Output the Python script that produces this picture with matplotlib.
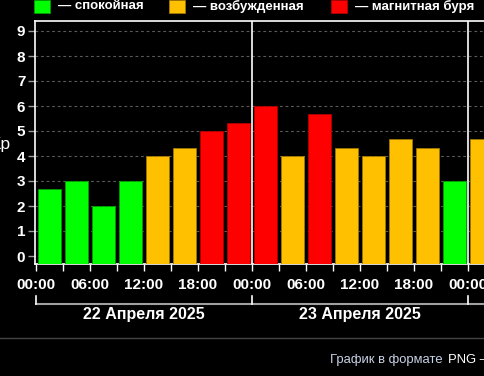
import numpy as np
import matplotlib
matplotlib.use("Agg")
import matplotlib.pyplot as plt
import matplotlib.transforms as mtransforms

plt.rcParams['font.family'] = ['Liberation Sans', 'DejaVu Sans']

# Kp index, 3-hour intervals starting 22.04.2025 00:00
kp = [2.67, 3.0, 2.0, 3.0, 4.0, 4.33, 5.0, 5.33,
      6.0, 4.0, 5.67, 4.33, 4.0, 4.67, 4.33, 3.0, 4.67]
levels = ['calm', 'calm', 'calm', 'calm', 'active', 'active', 'storm', 'storm',
          'storm', 'active', 'storm', 'active', 'active', 'active', 'active', 'calm', 'active']
legend_labels = ['— спокойная', '— возбужденная', '— магнитная буря']
day_labels = ['22 Апреля 2025', '23 Апреля 2025']
hour_labels = ['00:00', '06:00', '12:00', '18:00']

fill = {'calm': '#00ff00', 'active': '#ffc000', 'storm': '#ff0000'}
edge = {'calm': '#00a000', 'active': '#a07800', 'storm': '#b00000'}

W, H = 484, 376
fig = plt.figure(figsize=(W / 100, H / 100), dpi=100, facecolor='black')

def px(x0, y0, x1, y1):
    # pixel box -> figure fraction [left, bottom, width, height]
    return [x0 / W, 1 - y1 / H, (x1 - x0) / W, (y1 - y0) / H]

ax = fig.add_axes(px(35, 21, 484, 264))
ax.set_facecolor('black')

hours = np.arange(len(kp)) * 3 + 1.5
ymin = -0.32
ax.bar(hours, np.array(kp) - ymin, bottom=ymin, width=2.65,
       color=[fill[l] for l in levels], edgecolor=[edge[l] for l in levels],
       linewidth=0.6, zorder=3)

ax.set_xlim(-0.12, 49.78)
ax.set_ylim(ymin, 9.4)

for y in range(1, 10):
    ax.axhline(y, color='#5a5a5a', lw=0.8, ls=(0, (2.5, 2.5)), zorder=1)
for d in (24, 48):
    ax.axvline(d, color='white', lw=1.2, zorder=4)

ax.set_yticks(range(10))
ax.set_yticklabels([str(i) for i in range(10)])
xt = np.arange(0, 50, 6)
ax.set_xticks(xt)
ax.set_xticklabels([hour_labels[(h // 6) % 4] for h in xt])
ax.set_xticks(np.arange(3, 50, 6), minor=True)
ax.tick_params(axis='both', which='both', colors='white', length=5, width=1)
ax.tick_params(axis='y', color='#9a9a9a', labelsize=11, pad=2)
ax.tick_params(axis='x', labelsize=11, pad=5)
for lab in ax.get_xticklabels() + ax.get_yticklabels():
    lab.set_fontweight('bold')

for side in ('left', 'top', 'bottom'):
    ax.spines[side].set_color('white')
    ax.spines[side].set_linewidth(1.2)
ax.spines['right'].set_visible(False)

# date bracket below the axis
tr = mtransforms.blended_transform_factory(ax.transData, fig.transFigure)
yb = 1 - 304 / H
yt = 1 - 296 / H
ax.plot([0, 49.78], [yb, yb], color='#a0a0a0', lw=1.5, transform=tr, clip_on=False)
for d in (0, 24, 48):
    ax.plot([d, d], [yb, yt], color='white', lw=1.2, transform=tr, clip_on=False)
for i, lab in enumerate(day_labels):
    ax.text(12 + 24 * i, 1 - 315 / H, lab, transform=tr, color='white',
            fontsize=11.5, fontweight='bold', ha='center', va='center')

fig.text(11 / W, 1 - 144 / H, 'Kp', color='white', fontsize=12.5,
         ha='right', va='center')

# legend along the top edge
sq_x = [34, 169, 331]
for x0, lvl, lab in zip(sq_x, ['calm', 'active', 'storm'], legend_labels):
    fig.patches.append(plt.Rectangle((x0 / W, 1 - 13 / H), 16 / W, 13 / H,
                                     transform=fig.transFigure,
                                     facecolor=fill[lvl], edgecolor=edge[lvl], lw=0.6))
    fig.text((x0 + 24) / W, 1 - 6 / H, lab, color='white', fontsize=9.5,
             fontweight='bold', ha='left', va='center')

# separator and footer
fig.add_artist(plt.Line2D([0, 1], [1 - 338 / H] * 2, color='#444444', lw=1,
                          transform=fig.transFigure))
fig.text(330 / W, 1 - 360 / H, 'График в формате', color='#c8d2e6',
         fontsize=9.4, ha='left', va='center')
fig.text(448 / W, 1 - 360 / H, 'PNG –', color='white', fontsize=9.4,
         ha='left', va='center')

fig.savefig('out.png', dpi=100, facecolor='black')
